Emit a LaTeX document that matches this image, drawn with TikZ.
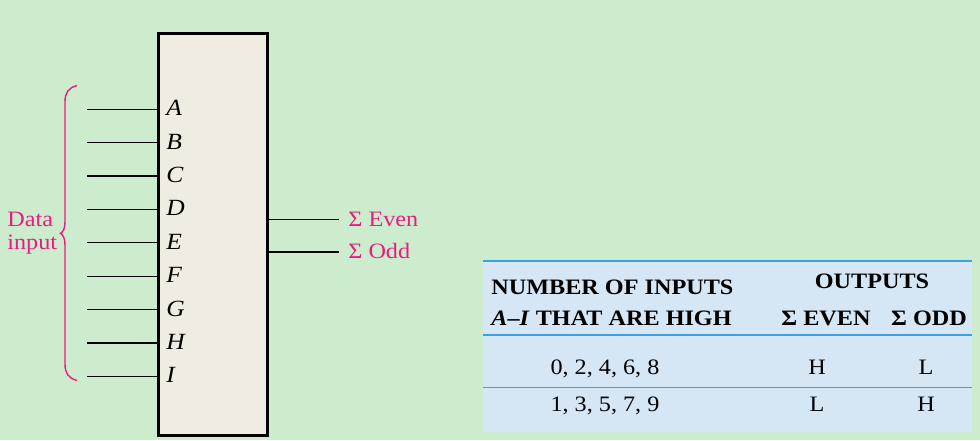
\documentclass[tikz,border=0pt]{standalone}
\usepackage{fontspec}
\setmainfont{Liberation Serif}[FakeStretch=1.1]
\definecolor{bggreen}{RGB}{205,236,205}
\definecolor{boxfill}{RGB}{241,236,226}
\definecolor{pinkc}{RGB}{230,30,130}
\definecolor{tabbg}{RGB}{213,230,245}
\definecolor{tabline}{RGB}{60,160,225}
\begin{document}
\begin{tikzpicture}[x=0.5pt,y=-0.5pt,
  txt/.style={inner sep=0pt,font=\fontsize{11}{12}\selectfont},
  pin/.style={inner sep=0pt,anchor=base west,font=\fontsize{11.6}{12}\selectfont},
  inwire/.style={line width=0.6pt},
  pinklbl/.style={txt,text=pinkc,anchor=base west},
  hdr/.style={txt,font=\fontsize{11}{12}\selectfont\bfseries},
  cell/.style={txt,anchor=base}]
\useasboundingbox (0,0) rectangle (980,440);
\fill[bggreen] (0,0) rectangle (980,440);
% block
\draw[line width=1.5pt,fill=boxfill] (158.5,33.5) rectangle (267.5,435.5);
% inputs
\foreach \l/\y [count=\i] in {A/109.3,B/142.6,C/176,D/209.4,E/242.8,F/276.2,G/309.6,H/343,I/376.4}{
  \coordinate (in\i) at (87,\y);
  \coordinate (pin\i) at (157,\y);
  \draw[inwire] (in\i) -- (pin\i);
  \node[pin] (lbl\i) at (166,\y+6.5) {\textit{\l}};
}
% outputs
\coordinate (oe0) at (269,219.3);
\coordinate (oe1) at (339,219.3);
\coordinate (oo0) at (269,252);
\coordinate (oo1) at (339,252);
\draw[inwire] (oe0) -- (oe1);
\draw[inwire] (oo0) -- (oo1);
\node[pinklbl] (even) at (348,226) {Σ Even};
\node[pinklbl] (odd) at (348,258.5) {Σ Odd};
% brace
\draw[pinkc,line width=0.7pt]
  (77,85.5) .. controls (68,88) and (65,93) .. (65,102)
  -- (65,222) .. controls (65,229) and (63,232) .. (60.5,233.3)
  .. controls (63,235) and (65,238) .. (65,245)
  -- (65,364) .. controls (65,373) and (68,378) .. (77,380.5);
\node[pinklbl] (data) at (7,226) {Data};
\node[pinklbl] (input) at (7,249) {input};
% table
\fill[tabbg] (483,261) rectangle (972,432);
\draw[tabline,line width=0.8pt] (483,261) -- (972,261);
\draw[tabline,line width=0.8pt] (483,335) -- (972,335);
\draw[tabline,line width=0.8pt] (483,387.5) -- (972,387.5);
\node[hdr,anchor=base west] (h1) at (491,294) {NUMBER OF INPUTS};
\node[hdr,anchor=base west] (h2) at (491,325) {\textit{A}–\textit{I} THAT ARE HIGH};
\node[hdr,anchor=base] (h3) at (872,288) {OUTPUTS};
\node[hdr,anchor=base] (h4) at (826,325) {Σ EVEN};
\node[hdr,anchor=base] (h5) at (929,325) {Σ ODD};
\node[cell] (r1a) at (605,374) {0, 2, 4, 6, 8};
\node[cell] (r1b) at (817,374) {H};
\node[cell] (r1c) at (926,374) {L};
\node[cell] (r2a) at (605,411.5) {1, 3, 5, 7, 9};
\node[cell] (r2b) at (817,411.5) {L};
\node[cell] (r2c) at (926,411.5) {H};
\end{tikzpicture}
\end{document}
